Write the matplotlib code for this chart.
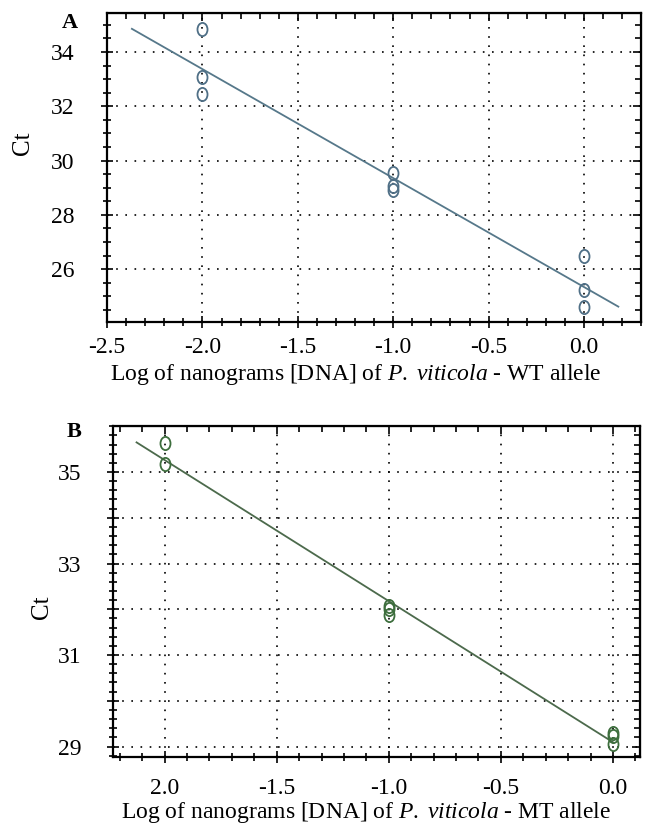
import numpy as np
import matplotlib
matplotlib.use('Agg')
import matplotlib.pyplot as plt
from matplotlib.path import Path
from matplotlib.ticker import MultipleLocator, FixedLocator

plt.rcParams['font.family'] = ['Liberation Serif', 'DejaVu Serif']
plt.rcParams['mathtext.fontset'] = 'custom'
plt.rcParams['mathtext.rm'] = 'Liberation Serif'
plt.rcParams['mathtext.it'] = 'Liberation Serif:italic'

# Panel A - WT allele
a_x = [-2.0, -2.0, -2.0, -1.0, -1.0, -1.0, 0.0, 0.0, 0.0]
a_ct = [34.85, 33.08, 32.45, 29.55, 29.08, 28.9, 26.48, 25.22, 24.6]
a_fit_range = [-2.37, 0.18]
a_yticks = [26, 28, 30, 32, 34]
a_xticks = [-2.5, -2.0, -1.5, -1.0, -0.5, 0.0]
a_xlabels = ['-2.5', '-2.0', '-1.5', '-1.0', '-0.5', '0.0']

# Panel B - MT allele
b_x = [-2.0, -2.0, -1.0, -1.0, -1.0, 0.0, 0.0, 0.0]
b_ct = [35.64, 35.17, 32.08, 32.0, 31.88, 29.3, 29.22, 29.05]
b_fit_range = [-2.125, 0.0]
b_yticks = [29, 31, 33, 35]
b_ygrid = [29, 30, 31, 32, 33, 34, 35]
b_xticks = [-2.0, -1.5, -1.0, -0.5, 0.0]
b_xlabels = ['2.0', '-1.5', '-1.0', '-0.5', '0.0']

# tall open ellipse marker
circ = Path.unit_circle()
ell = Path(circ.vertices * np.array([0.76, 1.0]), circ.codes)

fig = plt.figure(figsize=(6.57, 8.26), dpi=100)
axA = fig.add_axes([0.163, 0.610, 0.813, 0.374])
axB = fig.add_axes([0.172, 0.084, 0.802, 0.400])


def style(ax, xminor, yminor, xpad, ypad):
    for s in ax.spines.values():
        s.set_linewidth(1.6)
    ax.xaxis.set_minor_locator(MultipleLocator(xminor))
    ax.yaxis.set_minor_locator(MultipleLocator(yminor))
    ax.tick_params(which='both', direction='inout', labelsize=17, width=1.2)
    ax.tick_params(axis='x', pad=xpad)
    ax.tick_params(axis='y', pad=ypad)
    ax.tick_params(which='major', length=9)
    ax.tick_params(which='minor', length=6)
    ax.grid(True, which='major', color='black', linestyle=(0, (1, 4.5)), linewidth=1.2)
    # top / right ticks point inward only
    top = ax.secondary_xaxis('top')
    top.set_xticks(ax.get_xticks())
    top.xaxis.set_minor_locator(MultipleLocator(xminor))
    top.tick_params(which='both', direction='in', labeltop=False, width=1.2)
    top.tick_params(which='major', length=6)
    top.tick_params(which='minor', length=4)
    right = ax.secondary_yaxis('right')
    right.set_yticks(ax.get_yticks())
    right.yaxis.set_minor_locator(MultipleLocator(yminor))
    right.tick_params(which='both', direction='in', labelright=False, width=1.2)
    right.tick_params(which='major', length=6)
    right.tick_params(which='minor', length=4)


# ---- A ----
axA.set_xlim(-2.5, 0.3)
axA.set_ylim(24.05, 35.43)
axA.set_xticks(a_xticks)
axA.set_xticklabels(a_xlabels)
axA.set_yticks(a_yticks)
style(axA, 0.1, 0.5, 6, 19)
k, c = np.polyfit(a_x, a_ct, 1)
fx = np.array(a_fit_range)
axA.plot(fx, k * fx + c, color='#56788a', lw=1.3, zorder=3)
axA.plot(a_x, a_ct, linestyle='none', marker=ell, markersize=9.5,
         markerfacecolor='none', markeredgecolor='#4f6f86', markeredgewidth=1.3, zorder=4)
axA.set_ylabel('Ct', fontsize=18)
axA.yaxis.set_label_coords(-0.136, 0.58)
axA.set_xlabel('Log of nanograms [DNA] of $\\it{P.\\;viticola}$ - WT allele', fontsize=17, labelpad=3)
axA.xaxis.label.set_x(0.466)
fig.text(0.107, 0.972, 'A', fontsize=16, fontweight='bold', ha='center', va='center')

# ---- B ----
axB.set_xlim(-2.23, 0.12)
axB.set_ylim(28.78, 36.0)
axB.set_xticks(b_xticks)
axB.set_xticklabels(b_xlabels)
axB.yaxis.set_major_locator(FixedLocator(b_ygrid))
axB.set_yticklabels([str(v) if v in b_yticks else '' for v in b_ygrid])
style(axB, 0.1, 0.2, 11, 18)
k, c = np.polyfit(b_x, b_ct, 1)
fx = np.array(b_fit_range)
axB.plot(fx, k * fx + c, color='#4c6a4c', lw=1.3, zorder=3)
axB.plot(b_x, b_ct, linestyle='none', marker=ell, markersize=9.5,
         markerfacecolor='none', markeredgecolor='#3d6e3d', markeredgewidth=1.3, zorder=4)
axB.set_ylabel('Ct', fontsize=18)
axB.yaxis.set_label_coords(-0.113, 0.453)
axB.set_xlabel('Log of nanograms [DNA] of $\\it{P.\\;viticola}$ - MT allele', fontsize=17, labelpad=0.5)
axB.xaxis.label.set_x(0.48)
fig.text(0.112, 0.477, 'B', fontsize=16, fontweight='bold', ha='center', va='center')

fig.savefig('out.png', dpi=100)
